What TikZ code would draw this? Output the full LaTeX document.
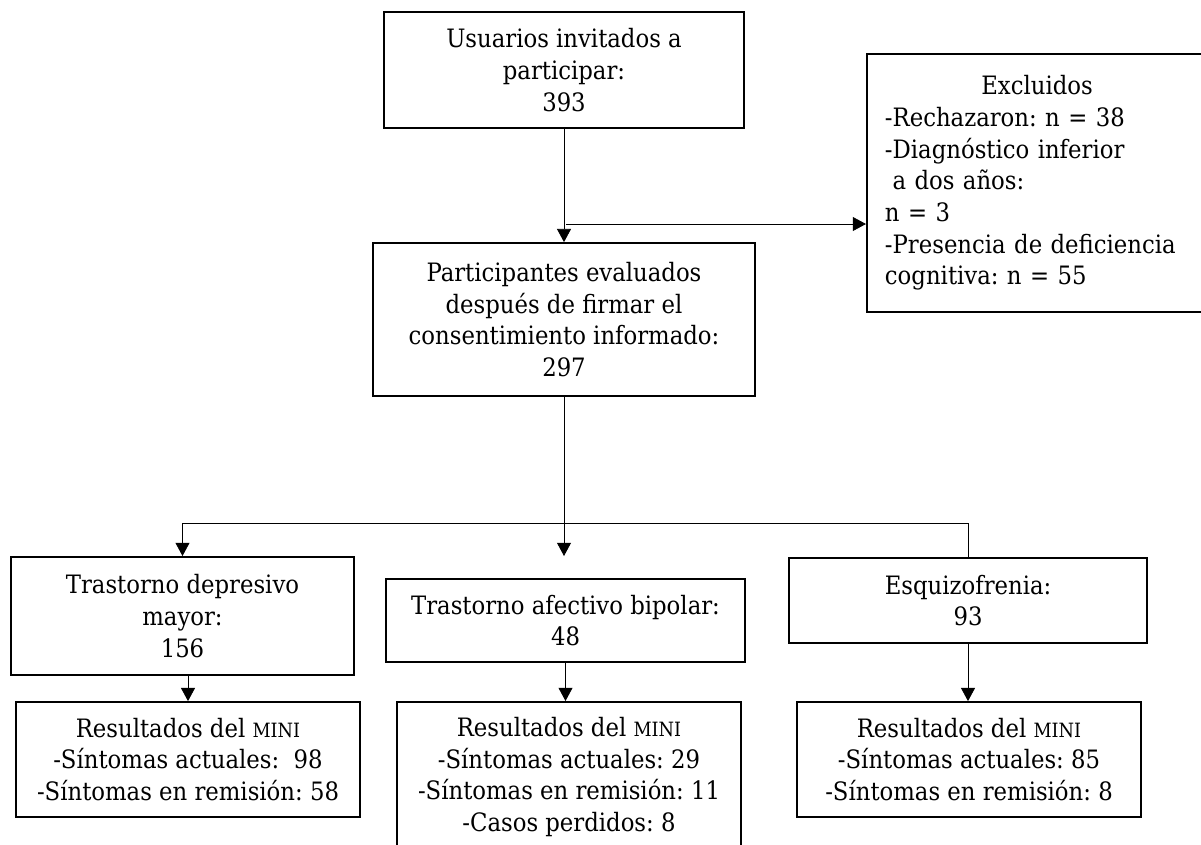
\documentclass[tikz,border=0pt]{standalone}
\usepackage{fontspec}
\setmainfont{DejaVu Serif Condensed}
\usepackage{tikz}
\usetikzlibrary{arrows.meta, positioning}
\newcommand{\mini}{{\fontsize{14pt}{14pt}\selectfont MINI}}
\frenchspacing

\begin{document}
\begin{tikzpicture}[
        x=0.025cm, y=-0.025cm,
        caja/.style={
            rectangle,
            draw=black,
            line width=1.4pt,
            align=center,
            font=\fontsize{18pt}{22.5pt}\selectfont
        },
        flecha/.style={
            -{Triangle[length=0.33cm,width=0.35cm]},
            line width=0.6pt,
            draw=black
        },
        linea/.style={
            line width=0.6pt,
            draw=black
        }
    ]
        \useasboundingbox (0,0) rectangle (1201,844);

        % Upper boxes
        \node[caja, minimum width=9cm, minimum height=2.9cm] (usu) at (564,70) {Usuarios invitados a\\participar:\\393};
        \node[caja, align=left, text width=7.6cm, inner xsep=0.45cm, minimum height=6.45cm] (excl) at (1037,183) {\makebox[\linewidth]{Excluidos}\\-Rechazaron: n = 38\\-Diagnóstico inferior\\\hspace{0.3em}a dos años:\\n = 3\\-Presencia de deficiencia\\cognitiva: n = 55};
        \node[caja, minimum width=9.55cm, minimum height=3.82cm] (part) at (564,319.5) {Participantes evaluados\\después de firmar el\\consentimiento informado:\\297};

        % Diagnoses
        \node[caja, minimum width=8.57cm, minimum height=2.95cm] (dep) at (182.5,616) {Trastorno depresivo\\mayor:\\156};
        \node[caja, minimum width=8.97cm, minimum height=2.07cm] (bip) at (565.5,620.5) {Trastorno afectivo bipolar:\\48};
        \node[caja, minimum width=8.95cm, minimum height=2.12cm] (esq) at (968,600.5) {Esquizofrenia:\\93};

        % MINI results
        \node[caja, minimum width=8.6cm, minimum height=2.87cm] (rdep) at (188,759.5) {Resultados del \mini\\-Síntomas actuales:\ \ 98\\-Síntomas en remisión: 58};
        \node[caja, minimum width=8.6cm, minimum height=3.75cm] (rbip) at (569,777) {Resultados del \mini\\-Síntomas actuales: 29\\-Síntomas en remisión: 11\\-Casos perdidos: 8};
        \node[caja, minimum width=8.6cm, minimum height=2.87cm] (resq) at (969,759.5) {Resultados del \mini\\-Síntomas actuales: 85\\-Síntomas en remisión: 8};

        % Connectors
        \coordinate (cruce) at (566,224);
        \coordinate (reparto) at (565,523);
        \draw[flecha] (usu.south) -- (part.north);
        \draw[flecha] (cruce) -- (cruce -| excl.west);
        \draw[flecha] (part.south) -- (part.south |- dep.north);
        \draw[linea] (reparto -| dep.north) -- (reparto -| esq.north);
        \draw[flecha] (reparto -| dep.north) -- (dep.north);
        \draw[linea] (reparto -| esq.north) -- (esq.north);
        \draw[flecha] (rdep.north |- dep.south) -- (rdep.north);
        \draw[flecha] (bip.south) -- (bip.south |- rbip.north);
        \draw[flecha] (esq.south) -- (esq.south |- resq.north);
    \end{tikzpicture}
\end{document}
